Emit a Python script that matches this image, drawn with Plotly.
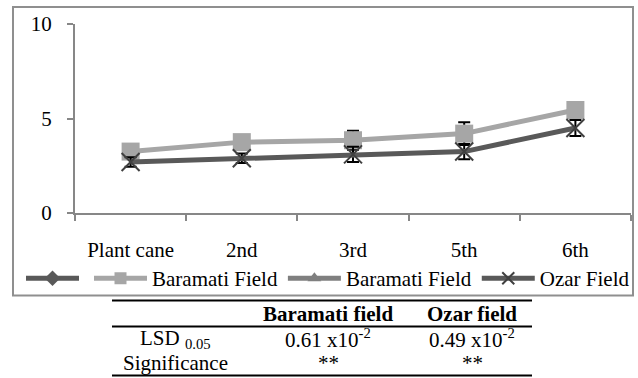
import plotly.graph_objects as go

categories = ["Plant cane", "2nd", "3rd", "5th", "6th"]
baramati = [3.25, 3.75, 3.85, 4.2, 5.45]
baramati_err = [0.3, 0.3, 0.5, 0.6, 0.4]
ozar = [2.7, 2.9, 3.1, 3.25, 4.5]
ozar_err = [0.25, 0.25, 0.4, 0.4, 0.42]
empty_series = [None, None, None, None, None]

legend_names = ["", "Baramati Field", "Baramati Field", "Ozar Field"]
yticks = [0, 5, 10]

table_header = ["", "Baramati field", "Ozar field"]
table_rows = [
    ["LSD <sub>0.05</sub>", "0.61 x10<sup>-2</sup>", "0.49 x10<sup>-2</sup>"],
    ["Significance", "**", "**"],
]

W, H = 638, 378
L, R, T, B = 75, 631, 24, 213.3
FONT = "Liberation Serif, Times New Roman, serif"


def px(x):
    return (x - L) / (R - L)


def py(y):
    return (B - y) / (B - T)


fig = go.Figure()
fig.add_trace(go.Scatter(x=categories, y=empty_series, name=legend_names[0],
                         mode="lines+markers",
                         line=dict(color="#595959", width=5),
                         marker=dict(symbol="diamond", size=10, color="#595959")))
fig.add_trace(go.Scatter(x=categories, y=baramati, name=legend_names[1],
                         mode="lines+markers",
                         line=dict(color="#A6A6A6", width=5),
                         marker=dict(symbol="square", size=18, color="#A6A6A6"),
                         error_y=dict(type="data", array=baramati_err, color="black",
                                      thickness=2, width=6)))
fig.add_trace(go.Scatter(x=categories, y=empty_series, name=legend_names[2],
                         mode="lines+markers",
                         line=dict(color="#7F7F7F", width=5),
                         marker=dict(symbol="triangle-up", size=10, color="#7F7F7F")))
fig.add_trace(go.Scatter(x=categories, y=ozar, name=legend_names[3],
                         mode="lines+markers",
                         line=dict(color="#595959", width=5),
                         marker=dict(symbol="x-thin", size=18, color="#404040",
                                     line=dict(color="#404040", width=2)),
                         error_y=dict(type="data", array=ozar_err, color="black",
                                      thickness=2, width=6)))

fig.update_layout(
    width=W, height=H,
    margin=dict(l=L, r=W - R, t=T, b=H - B),
    paper_bgcolor="white", plot_bgcolor="white",
    font=dict(family=FONT, size=21, color="black"),
    showlegend=True,
    legend=dict(orientation="h", x=px(21), xanchor="left", y=py(279), yanchor="middle",
                font=dict(family=FONT, size=21, color="black"),
                bgcolor="rgba(0,0,0,0)", itemsizing="constant", tracegroupgap=0,
                itemwidth=53, traceorder="normal"),
)
fig.update_xaxes(type="category", range=[-0.5, 4.5], tickson="boundaries",
                 ticks="outside", ticklen=6, tickwidth=2, tickcolor="#878787",
                 showline=True, linecolor="#878787", linewidth=2, showgrid=False,
                 tickfont=dict(family=FONT, size=21, color="black"),
                 ticklabelstandoff=17, fixedrange=True)
fig.update_yaxes(range=[0, 10], tickvals=yticks, ticks="outside", ticklen=6,
                 tickwidth=2, tickcolor="#878787", showline=True, linecolor="#878787",
                 linewidth=2, showgrid=False, zeroline=False,
                 tickfont=dict(family=FONT, size=21, color="black"),
                 ticklabelstandoff=11, fixedrange=True)

shapes = []
# outer chart border
shapes.append(dict(type="rect", xref="paper", yref="paper",
                   x0=px(13), x1=px(633), y0=py(296), y1=py(7),
                   line=dict(color="#8F8F8F", width=2), fillcolor="rgba(0,0,0,0)",
                   layer="below"))
# table rules
for yy in (301, 327, 376):
    shapes.append(dict(type="line", xref="paper", yref="paper",
                       x0=px(112), x1=px(532), y0=py(yy), y1=py(yy),
                       line=dict(color="black", width=2)))
fig.update_layout(shapes=shapes)

col_x = [175, 328, 472]
row_y = [314, 339, 364]
annotations = []
for i, txt in enumerate(table_header):
    if txt:
        annotations.append(dict(text="<b>" + txt + "</b>", x=px(col_x[i]), y=py(row_y[0]),
                                xref="paper", yref="paper", showarrow=False,
                                xanchor="center", yanchor="middle",
                                font=dict(family=FONT, size=21, color="black")))
for r, row in enumerate(table_rows):
    for i, txt in enumerate(row):
        annotations.append(dict(text=txt, x=px(col_x[i]), y=py(row_y[r + 1]),
                                xref="paper", yref="paper", showarrow=False,
                                xanchor="center", yanchor="middle",
                                font=dict(family=FONT, size=21, color="black")))
fig.update_layout(annotations=annotations)

fig.write_html("out.html")
